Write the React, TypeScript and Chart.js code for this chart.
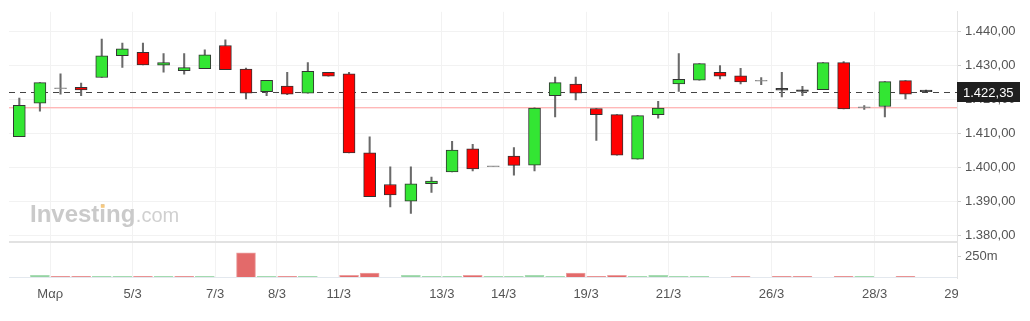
import React, { useEffect, useRef } from "react";
import { Chart, registerables } from "chart.js";

Chart.register(...registerables);

// ---- data ----
const opens = [1409.1, 1419.0, 1423.2, 1423.6, 1426.5, 1432.9, 1433.9, 1430.1, 1428.5, 1429.1, 1435.9, 1429.0, 1422.35, 1424.0, 1421.9, 1428.0, 1427.6, 1404.4, 1395.1, 1390.2, 1395.3, 1398.8, 1405.6, 1400.3, 1403.4, 1400.8, 1421.2, 1424.6, 1417.4, 1415.6, 1402.5, 1415.6, 1424.6, 1425.7, 1428.0, 1427.0, 1425.4, 1423.3, 1422.9, 1422.9, 1430.9, 1417.6, 1418.0, 1425.6, 1422.85];
const highs = [1420.5, 1425.0, 1427.6, 1424.9, 1437.8, 1436.6, 1436.6, 1433.5, 1433.5, 1434.6, 1437.6, 1429.3, 1425.65, 1428.0, 1430.9, 1428.0, 1428.0, 1409.1, 1400.3, 1400.3, 1397.3, 1407.8, 1406.9, 1400.3, 1405.9, 1417.6, 1426.6, 1426.6, 1417.4, 1415.6, 1415.3, 1419.5, 1433.5, 1430.6, 1430.0, 1429.2, 1426.5, 1428.0, 1423.9, 1430.9, 1431.2, 1418.3, 1425.3, 1425.6, 1422.85];
const lows = [1409.1, 1416.6, 1421.6, 1421.2, 1426.5, 1429.5, 1430.2, 1428.1, 1427.5, 1429.1, 1428.8, 1420.2, 1421.2, 1421.5, 1421.9, 1426.9, 1404.4, 1391.5, 1388.5, 1386.6, 1392.8, 1398.8, 1399.1, 1400.3, 1397.8, 1399.1, 1414.9, 1419.9, 1408.0, 1403.7, 1402.5, 1414.6, 1422.4, 1425.7, 1426.1, 1424.6, 1424.4, 1420.8, 1421.2, 1422.9, 1417.3, 1417.1, 1414.9, 1420.2, 1422.35];
const closes = [1418.35, 1425.0, 1423.2, 1422.85, 1432.9, 1434.9, 1430.2, 1430.9, 1429.4, 1433.2, 1428.8, 1421.9, 1425.65, 1421.65, 1428.3, 1426.9, 1404.4, 1391.55, 1392.0, 1395.3, 1396.1, 1405.2, 1399.7, 1400.3, 1400.7, 1417.55, 1425.0, 1421.9, 1415.6, 1403.7, 1415.3, 1417.55, 1426.0, 1430.6, 1426.9, 1425.2, 1425.4, 1422.8, 1422.4, 1430.9, 1417.3, 1417.6, 1425.3, 1421.65, 1422.35];

// volume in millions
const volumes = [0, 31, 20, 20, 20, 20, 20, 20, 20, 20, 8, 291, 20, 20, 20, 6, 31, 58, 0, 31, 20, 20, 31, 20, 20, 31, 20, 58, 20, 31, 20, 31, 20, 20, 8, 20, 0, 20, 20, 0, 20, 20, 0, 20, 0];
const volumeUp = [1, 1, 0, 0, 1, 1, 0, 1, 0, 1, 0, 0, 1, 0, 1, 0, 0, 0, 1, 1, 1, 1, 0, 1, 1, 1, 1, 0, 0, 0, 1, 1, 1, 1, 0, 0, 0, 0, 0, 1, 0, 1, 1, 0, 1];

const lastPrice = 1422.35;
const prevClose = 1417.75;

const priceTicks = [1380, 1390, 1400, 1410, 1420, 1430, 1440];
const volumeTicks = [250];
const dateTickSlots = [1.5, 5.5, 9.5, 12.5, 15.5, 20.5, 23.5, 27.5, 31.5, 36.5, 41.5, 45.5];
const dateTickLabels = ["Μαρ", "5/3", "7/3", "8/3", "11/3", "13/3", "14/3", "19/3", "21/3", "26/3", "28/3", "29/3"];

const FONT = "'Liberation Sans', Arial, Helvetica, sans-serif";

function fmt(v: number): string {
  const [i, d] = v.toFixed(2).split(".");
  return i.replace(/\B(?=(\d{3})+(?!\d))/g, ".") + "," + d;
}

const overlayPlugin = {
  id: "overlay",
  beforeDatasetsDraw(chart: any) {
    const { ctx, chartArea, scales } = chart;
    const y = scales.y;
    ctx.save();
    // watermark
    ctx.textBaseline = "alphabetic";
    ctx.textAlign = "left";
    ctx.font = `bold 24px ${FONT}`;
    ctx.fillStyle = "#cacaca";
    const wx = chartArea.left + 21;
    const wy = 222;
    ctx.fillText("Investing", wx, wy);
    const w1 = ctx.measureText("Investing").width;
    const wInv = ctx.measureText("Invest").width;
    const wi = ctx.measureText("i").width;
    ctx.fillStyle = "#f7c97e";
    ctx.fillRect(wx + wInv + wi * 0.22, wy - 17.6, wi * 0.56, 3.4);
    ctx.font = `20px ${FONT}`;
    ctx.fillStyle = "#d0d0d0";
    ctx.fillText(".com", wx + w1 + 0.5, wy);

    // previous close line
    const py = Math.round(y.getPixelForValue(prevClose));
    ctx.fillStyle = "#ffb8b8";
    ctx.fillRect(chartArea.left, py, chartArea.right - chartArea.left, 1);
    ctx.fillStyle = "rgba(255,200,200,0.5)";
    ctx.fillRect(chartArea.left, py + 1, chartArea.right - chartArea.left, 1);

    // last price dashed line
    const ly = Math.round(y.getPixelForValue(lastPrice)) + 0.5;
    ctx.strokeStyle = "#444";
    ctx.lineWidth = 1;
    ctx.setLineDash([6, 5]);
    ctx.beginPath();
    ctx.moveTo(chartArea.left, ly);
    ctx.lineTo(chartArea.right, ly);
    ctx.stroke();
    ctx.restore();
  },
  afterDraw(chart: any) {
    const { ctx, chartArea, scales } = chart;
    const y = scales.y;
    ctx.save();
    // panel separator
    ctx.fillStyle = "#e2e2e2";
    ctx.fillRect(chartArea.left, Math.round(y.bottom) - 1, chartArea.right - chartArea.left, 2);
    // volume baseline
    ctx.fillStyle = "#e3e8ee";
    ctx.fillRect(chartArea.left, Math.round(chartArea.bottom) - 1, chartArea.right - chartArea.left, 1);
    // hide the part of last x label beyond plot
    ctx.fillStyle = "#ffffff";
    ctx.fillRect(chartArea.right + 1, chartArea.bottom + 2, 80, 40);
    // last price box
    const ly = Math.round(y.getPixelForValue(lastPrice));
    ctx.fillStyle = "#1f1f1f";
    ctx.fillRect(chartArea.right, ly - 10, 63, 20);
    ctx.fillStyle = "#ffffff";
    ctx.font = `13px ${FONT}`;
    ctx.textBaseline = "middle";
    ctx.textAlign = "left";
    ctx.fillText(fmt(lastPrice), chartArea.right + 6, ly + 1);
    ctx.restore();
  },
};

export default function App() {
  const ref = useRef<HTMLCanvasElement | null>(null);

  useEffect(() => {
    document.body.style.margin = "0";
    const canvas = ref.current;
    if (!canvas) return;

    const bodyColors = opens.map((o, i) => {
      const d = closes[i] - o;
      if (d === 0) return "#8a8a8a";
      if (Math.abs(d) < 0.7) return "#222222";
      return d > 0 ? "#33e633" : "#ff0000";
    });
    const bodyBorders = opens.map((o, i) => (closes[i] === o ? "#8a8a8a" : "#333333"));
    const volColors = volumeUp.map((u) => (u ? "#94d3a2" : "#e36a6a"));
    const volBorders = volumeUp.map((u) => (u ? "#a8dcb3" : "#eba0a0"));

    const chart = new Chart(canvas, {
      type: "bar",
      data: {
        datasets: [
          {
            label: "wick",
            data: lows.map((l, i) => ({ x: i, y: [l, highs[i]] })) as any,
            backgroundColor: "#6a6a6a",
            barThickness: 1.4,
            grouped: false,
            yAxisID: "y",
            order: 3,
          } as any,
          {
            label: "body",
            data: opens.map((o, i) => ({ x: i, y: [o, closes[i]] })) as any,
            backgroundColor: bodyColors,
            borderColor: bodyBorders,
            borderWidth: 1,
            borderSkipped: false,
            barThickness: 12,
            minBarLength: 1,
            grouped: false,
            yAxisID: "y",
            order: 2,
          } as any,
          {
            label: "volume",
            data: volumes.map((v, i) => ({ x: i, y: v })) as any,
            backgroundColor: volColors,
            borderColor: volBorders,
            borderWidth: 1,
            borderSkipped: "bottom",
            barThickness: 19,
            grouped: false,
            yAxisID: "yv",
            order: 1,
          } as any,
        ],
      },
      options: {
        responsive: false,
        animation: false,
        layout: { padding: { left: 9, top: 10, right: 0, bottom: 0 } },
        plugins: { legend: { display: false }, tooltip: { enabled: false } },
        scales: {
          x: {
            type: "linear",
            position: "bottom",
            offset: false,
            min: -0.5,
            max: 45.5,
            grid: { color: "#f2f2f2", drawTicks: false, offset: false },
            border: { display: false },
            afterBuildTicks: (scale: any) => {
              scale.ticks = dateTickSlots.map((v) => ({ value: v }));
            },
            afterFit: (scale: any) => {
              scale.height = 43;
            },
            ticks: {
              autoSkip: false,
              maxRotation: 0,
              padding: 9,
              color: "#555",
              font: { family: FONT, size: 13 },
              callback: (v: any) => {
                const k = dateTickSlots.indexOf(Number(v));
                return k >= 0 ? dateTickLabels[k] : "";
              },
            },
          } as any,
          y: {
            type: "linear",
            position: "right",
            stack: "panels",
            stackWeight: 6.4,
            min: 1378.2,
            max: 1445.8,
            grid: { color: "#f2f2f2", tickLength: 4, tickColor: "#d0d0d0" },
            border: { color: "#e4e4e4" },
            afterBuildTicks: (scale: any) => {
              scale.ticks = priceTicks.map((v) => ({ value: v }));
            },
            afterFit: (scale: any) => {
              scale.width = 73;
            },
            ticks: {
              padding: 4,
              color: "#555",
              font: { family: FONT, size: 13 },
              callback: (v: any) => fmt(Number(v)),
            },
          } as any,
          yv: {
            type: "linear",
            position: "right",
            stack: "panels",
            stackWeight: 1,
            min: 0,
            max: 417,
            grid: { drawOnChartArea: false, tickLength: 4, tickColor: "#d0d0d0" },
            border: { color: "#e4e4e4" },
            afterBuildTicks: (scale: any) => {
              scale.ticks = volumeTicks.map((v) => ({ value: v }));
            },
            afterFit: (scale: any) => {
              scale.width = 73;
            },
            ticks: {
              padding: 4,
              color: "#555",
              font: { family: FONT, size: 13 },
              callback: (v: any) => `${v}m`,
            },
          } as any,
        },
      },
      plugins: [overlayPlugin],
    });

    return () => chart.destroy();
  }, []);

  return (
    <div style={{ width: 1030, height: 321 }}>
      <canvas ref={ref} width={1030} height={321} />
    </div>
  );
}
